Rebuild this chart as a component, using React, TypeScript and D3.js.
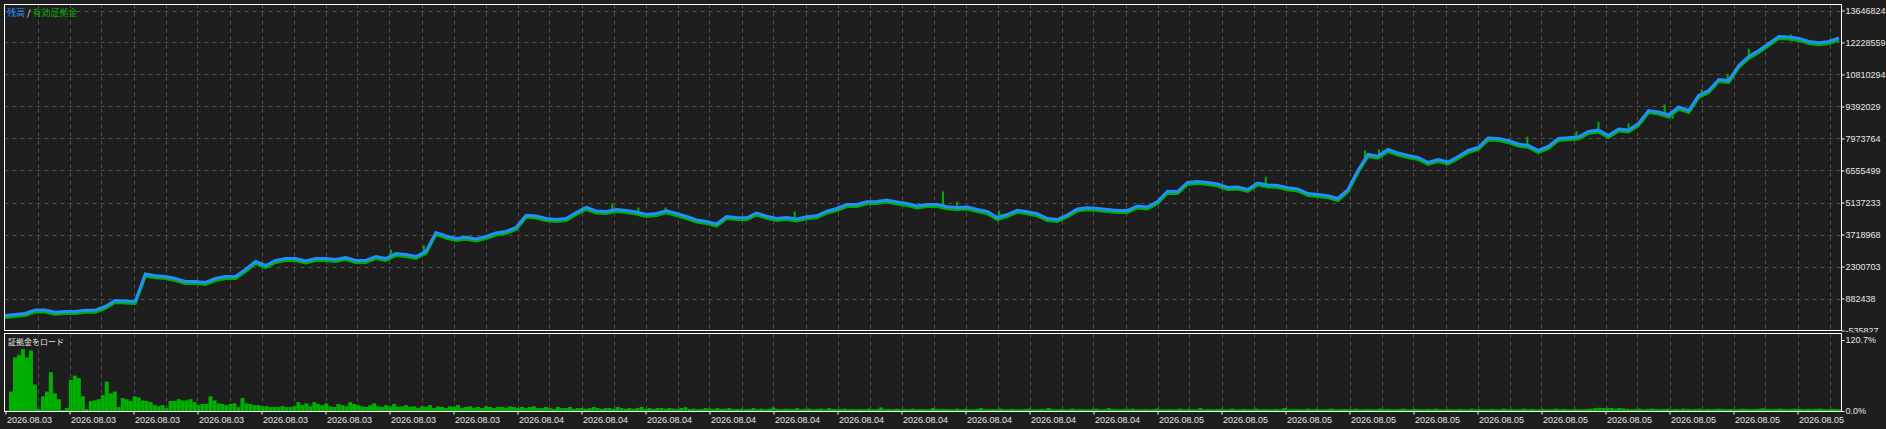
import { useEffect, useRef } from 'react'
import * as d3 from 'd3'

// balance (残高), one reading per 10px of the tester graph
const balance = [
  129000, 173000, 218000, 373000, 373000, 275000, 306000, 306000, 364000, 364000,
  528000, 794000, 772000, 750000, 1968000, 1889000, 1858000, 1769000, 1636000, 1636000,
  1592000, 1769000, 1858000, 1858000, 2168000, 2522000, 2345000, 2567000, 2655000, 2655000,
  2544000, 2655000, 2655000, 2611000, 2700000, 2567000, 2567000, 2744000, 2655000, 2877000,
  2833000, 2744000, 2966000, 3808000, 3653000, 3542000, 3599000, 3520000, 3630000, 3785000,
  3852000, 4029000, 4574000, 4539000, 4428000, 4384000, 4428000, 4694000, 4916000, 4761000,
  4738000, 4827000, 4783000, 4716000, 4605000, 4650000, 4769000, 4650000, 4517000, 4362000,
  4295000, 4184000, 4517000, 4472000, 4459000, 4672000, 4530000, 4428000, 4472000, 4406000,
  4503000, 4548000, 4752000, 4871000, 5049000, 5049000, 5168000, 5182000, 5248000, 5159000,
  5093000, 4982000, 5049000, 5049000, 4947000, 4916000, 4938000, 4827000, 4738000, 4472000,
  4605000, 4792000, 4725000, 4636000, 4428000, 4384000, 4583000, 4849000, 4902000, 4871000,
  4827000, 4783000, 4783000, 4982000, 4938000, 5182000, 5638000, 5625000, 6024000, 6068000,
  6024000, 5957000, 5802000, 5824000, 5713000, 6002000, 5913000, 5891000, 5789000, 5736000,
  5536000, 5492000, 5434000, 5315000, 5713000, 6556000, 7265000, 7189000, 7486000, 7331000,
  7220000, 7132000, 6910000, 7043000, 6932000, 7176000, 7442000, 7575000, 7996000, 7974000,
  7885000, 7730000, 7664000, 7442000, 7619000, 7974000, 8005000, 8040000, 8284000, 8351000,
  8107000, 8395000, 8351000, 8639000, 9215000, 9148000, 9015000, 9370000, 9215000, 9880000,
  10101000, 10589000, 10544000, 11209000, 11608000, 11874000, 12184000, 12495000, 12472000, 12406000,
  12273000, 12215000, 12273000, 12428000,
]

// equity (有効証拠金) excursions away from balance: [reading index, equity]
const equitySpikes: [number, number][] = [
  [38.5, 3054000], [41.8, 3231000], [60.6, 5093000], [63.2, 4916000], [65.9, 4916000],
  [78.8, 4738000], [93.6, 5625000], [95, 5168000], [99.2, 4783000], [125.8, 6276000],
  [135.7, 7455000], [137.1, 7486000], [151.9, 8049000], [156.8, 8297000], [159, 8714000],
  [162, 8639000], [165.6, 9481000], [166.4, 8847000], [169.3, 10146000], [171.9, 10810000],
  [174, 11949000], [178.2, 12583000],
]

// 証拠金をロード, percent
const marginLoad = [
  0.8, 33, 91, 95, 105, 91, 103, 45, 3.3, 25,
  33, 66, 30, 20, 1.7, 5, 53, 60, 56, 25,
  3.3, 17, 18, 20, 27, 50, 30, 33, 6.6, 22,
  20, 17, 25, 23, 18, 17, 15, 10, 8.3, 10,
  5, 17, 17, 20, 18, 18, 20, 15, 10, 12,
  12, 25, 18, 13, 12, 10, 12, 13, 6.6, 22,
  13, 12, 10, 10, 8.3, 8.3, 6.6, 6.6, 6.6, 8.3,
  6.6, 6.6, 8.3, 15,
  10, 13, 8, 15, 12, 10, 13, 8, 7, 12,
  10, 8, 15, 12, 10, 8, 7, 10, 13, 8,
  7, 10, 8, 12, 7, 8, 10, 7, 8, 5,
  8, 7, 10, 5, 8, 7, 5, 8, 7, 10,
  5, 7, 8, 5, 7, 5, 8, 7, 5, 7,
  7, 5, 8, 7, 5, 7, 5, 7, 8, 5,
  5, 7, 5, 3.5, 7, 5, 5, 7, 3.5, 5,
  5, 3.5, 5, 7, 5, 3.5, 5, 5, 3.5, 7,
  5, 3.5, 5, 3.5, 5, 7, 3.5, 5, 3.5, 5,
  5, 3.5, 5, 4, 3.5, 5, 6.5, 3.5, 4, 3,
  3.5, 5, 4, 3, 5, 3.5, 4, 5, 3, 3.5,
  4, 3, 3.5, 5, 3, 4, 3, 3.5, 6, 3.5,
  3, 4, 3.5, 3, 5, 3, 3.5, 4, 3, 3.5,
  4, 3, 5, 3.5, 3, 3.5, 4, 3, 3.5, 3,
  3.5, 3, 4, 3, 3.5, 6, 3, 3.5, 3, 4,
  3, 3.5, 3, 4, 3, 3.5, 3, 3, 5, 3.5,
  3, 3.5, 3, 3, 4, 3, 3.5, 3, 3, 3.5,
  5, 3, 3, 3.5, 3, 4, 3, 3, 3.5, 3,
  3, 3.5, 4, 3, 3, 3.5, 3, 5, 3, 3,
  3.5, 3, 3, 4, 3, 3.5, 3, 3, 3.5, 4,
  3, 3, 5, 3.5, 3, 3, 3.5, 3, 4, 3,
  3, 3.5, 3, 3, 4, 3, 3, 3.5, 3, 3,
  4, 3, 3.5, 3, 3, 5, 3, 3.5, 3, 3,
  3.5, 3, 3, 4, 3, 3, 3.5, 3, 3, 4,
  3, 3.5, 3, 3, 3.5, 3, 5, 3, 3, 3.5,
  3, 3, 4, 3, 3.5, 3, 3, 3.5, 4, 3,
  3, 3.5, 3, 3, 4, 3, 3, 3.5, 3, 3,
  4, 3, 3.5, 3, 3, 3.5, 4, 3, 3, 3.5,
  3, 3, 3.5, 3, 4, 3, 3, 3.5, 3, 3,
  3.5, 3, 3, 4, 3, 3.5, 3, 3, 3.5, 3,
  3, 4, 3, 3.5, 3, 3, 4, 3, 3.5, 3,
  3, 3.5, 3, 3, 4, 3, 3.5, 3, 3, 3.5,
  3, 3, 3.5, 4, 5, 5.5, 5, 5.5, 5, 4,
  5, 4.5, 3.5, 3, 3.5, 4, 3, 3.5, 4, 3.5,
  3, 3.5, 4, 3, 3.5, 3, 4, 3.5, 3, 3.5,
  4, 3, 3.5, 3, 3.5, 4, 3.5, 3, 3.5, 3,
  3.5, 4, 3.5, 3, 3.5, 4, 4.5, 3.5, 3, 3.5,
  4, 3.5, 3, 3.5, 4, 3.5, 3, 3.5, 3, 3.5,
  4, 3.5, 3, 3.5, 3.5, 3,
]

const yTicks = [
  13646824, 12228559, 10810294, 9392029, 7973764, 6555499,
  5137233, 3718968, 2300703, 882438, -535827,
]

const loadTicks = [120.7, 0]

const dateLabels = [
  '2026.08.03', '2026.08.03', '2026.08.03', '2026.08.03', '2026.08.03', '2026.08.03',
  '2026.08.03', '2026.08.03', '2026.08.04', '2026.08.04', '2026.08.04', '2026.08.04',
  '2026.08.04', '2026.08.04', '2026.08.04', '2026.08.04', '2026.08.04', '2026.08.04',
  '2026.08.05', '2026.08.05', '2026.08.05', '2026.08.05', '2026.08.05', '2026.08.05',
  '2026.08.05', '2026.08.05', '2026.08.05', '2026.08.05', '2026.08.05',
]

const BG = '#1e1e1e'
const GRID = '#505050'
const BLUE = '#1e90ff'
const GREEN = '#00b000'
const TEXT = '#e8e8e8'
const FONT = '"Liberation Sans", Arial, sans-serif'
const CJK = '"Noto Sans CJK JP", sans-serif'

export default function App() {
  const ref = useRef<SVGSVGElement>(null)

  useEffect(() => {
    if (!ref.current) return
    const svg = d3.select(ref.current)
    svg.selectAll('*').remove()

    const W = 1886
    const H = 429
    const left = 4.5
    const right = 1841.5
    const top = 4.5
    const mainBottom = 330.5
    const subTop = 333.5
    const subBottom = 411.5

    svg.append('rect').attr('width', W).attr('height', H).attr('fill', BG)

    const defs = svg.append('defs')
    defs.append('clipPath').attr('id', 'main-clip')
      .append('rect').attr('x', left).attr('y', top).attr('width', right - left).attr('height', mainBottom - top)
    // local coords of the axis group (it is translated to x = right)
    defs.append('clipPath').attr('id', 'axis-clip')
      .append('rect').attr('x', 0).attr('y', 0).attr('width', W - right).attr('height', subTop - 1)

    const y = d3.scaleLinear()
      .domain([yTicks[yTicks.length - 1], yTicks[0]])
      .range([mainBottom, 10.5])
    const xDates = d3.scaleLinear().domain([0, dateLabels.length - 1]).range([5.5, 5.5 + 64 * (dateLabels.length - 1)])
    const xBal = d3.scaleLinear().domain([0, balance.length - 1]).range([5, 1839])
    const xLoad = d3.scaleBand<number>().domain(d3.range(marginLoad.length)).range([5, 1841]).padding(0)
    const yLoad = d3.scaleLinear().domain([0, loadTicks[0]]).range([411, 340])

    // grid
    const vGrid = d3.range(1, 58).map(j => xDates(j / 2)).filter(x => x < right - 2)
    const grid = svg.append('g')
      .attr('stroke', GRID)
      .attr('stroke-width', 1)
      .attr('stroke-dasharray', '4 4')
    grid.selectAll('line.v1')
      .data(vGrid)
      .enter()
      .append('line')
      .attr('x1', d => Math.round(d) + 0.5)
      .attr('x2', d => Math.round(d) + 0.5)
      .attr('y1', top)
      .attr('y2', mainBottom)
    grid.selectAll('line.v2')
      .data(vGrid)
      .enter()
      .append('line')
      .attr('x1', d => Math.round(d) + 0.5)
      .attr('x2', d => Math.round(d) + 0.5)
      .attr('y1', subTop)
      .attr('y2', subBottom)
    grid.selectAll('line.h')
      .data(yTicks.slice(0, -1))
      .enter()
      .append('line')
      .attr('x1', left)
      .attr('x2', right)
      .attr('y1', d => Math.round(y(d)) + 0.5)
      .attr('y2', d => Math.round(y(d)) + 0.5)

    // equity / balance
    const plot = svg.append('g').attr('clip-path', 'url(#main-clip)')
    const line = d3.line<number>().x((d, i) => xBal(i)).y(d => y(d))

    // equity mostly trails balance by a hair, drawn beneath it
    plot.append('path')
      .datum(balance)
      .attr('d', line)
      .attr('transform', 'translate(0,2)')
      .attr('fill', 'none')
      .attr('stroke', GREEN)
      .attr('stroke-width', 3)

    const balAt = (t: number) => {
      const i = Math.floor(t)
      const f = t - i
      const a = balance[i]
      const b = balance[Math.min(i + 1, balance.length - 1)]
      return a + (b - a) * f
    }
    plot.selectAll('line.spike')
      .data(equitySpikes)
      .enter()
      .append('line')
      .attr('x1', d => xBal(d[0]))
      .attr('x2', d => xBal(d[0]))
      .attr('y1', d => y(balAt(d[0])))
      .attr('y2', d => y(d[1]))
      .attr('stroke', GREEN)
      .attr('stroke-width', 2)

    plot.append('path')
      .datum(balance)
      .attr('d', line)
      .attr('fill', 'none')
      .attr('stroke', BLUE)
      .attr('stroke-width', 3)
      .attr('stroke-linejoin', 'miter')

    // margin load bars
    svg.append('g')
      .selectAll('rect')
      .data(marginLoad)
      .enter()
      .append('rect')
      .attr('x', (d, i) => xLoad(i) as number)
      .attr('width', xLoad.bandwidth())
      .attr('y', d => yLoad(d))
      .attr('height', d => yLoad(0) - yLoad(d))
      .attr('fill', GREEN)

    // frames
    svg.append('rect')
      .attr('x', left).attr('y', top)
      .attr('width', right - left).attr('height', mainBottom - top)
      .attr('fill', 'none').attr('stroke', '#ffffff')
    svg.append('rect')
      .attr('x', left).attr('y', subTop)
      .attr('width', right - left).attr('height', subBottom - subTop)
      .attr('fill', 'none').attr('stroke', '#ffffff')

    // right axis (main)
    const yAxis = svg.append('g')
      .attr('transform', `translate(${right},0)`)
      .attr('clip-path', 'url(#axis-clip)')
      .call(d3.axisRight(y).tickValues(yTicks).tickSize(3).tickPadding(1).tickFormat(d => String(d)))
    yAxis.select('.domain').remove()
    yAxis.selectAll('line').attr('stroke', '#ffffff')
    yAxis.selectAll('text')
      .attr('fill', TEXT)
      .style('font-family', FONT)
      .style('font-size', '9px')

    // right axis (margin load)
    const lAxis = svg.append('g')
      .attr('transform', `translate(${right},0)`)
      .call(d3.axisRight(yLoad).tickValues(loadTicks).tickSize(3).tickPadding(1).tickFormat(d => `${(+d).toFixed(1)}%`))
    lAxis.select('.domain').remove()
    lAxis.selectAll('line').attr('stroke', '#ffffff')
    lAxis.selectAll('text')
      .attr('fill', TEXT)
      .style('font-family', FONT)
      .style('font-size', '9px')

    // bottom date axis
    const xAxis = svg.append('g')
      .attr('transform', `translate(0,${subBottom})`)
      .call(d3.axisBottom(xDates).tickValues(d3.range(dateLabels.length)).tickSize(3).tickPadding(2)
        .tickFormat(i => dateLabels[+i]))
    xAxis.select('.domain').remove()
    xAxis.selectAll('line').attr('stroke', '#ffffff')
    xAxis.selectAll('text')
      .attr('fill', TEXT)
      .attr('text-anchor', 'start')
      .attr('x', 1)
      .style('font-family', FONT)
      .style('font-size', '9px')

    // legend
    const legend = svg.append('text')
      .attr('x', 7)
      .attr('y', 16)
      .style('font-family', CJK)
      .style('font-size', '9px')
    legend.append('tspan').attr('fill', BLUE).text('残高')
    legend.append('tspan').attr('fill', TEXT).text(' / ')
    legend.append('tspan').attr('fill', GREEN).text('有効証拠金')

    svg.append('text')
      .attr('x', 8)
      .attr('y', 345)
      .attr('fill', TEXT)
      .style('font-family', CJK)
      .style('font-size', '8px')
      .text('証拠金をロード')
  }, [])

  return (
    <svg
      ref={ref}
      width={1886}
      height={429}
      style={{ position: 'absolute', left: 0, top: 0, display: 'block' }}
    />
  )
}
